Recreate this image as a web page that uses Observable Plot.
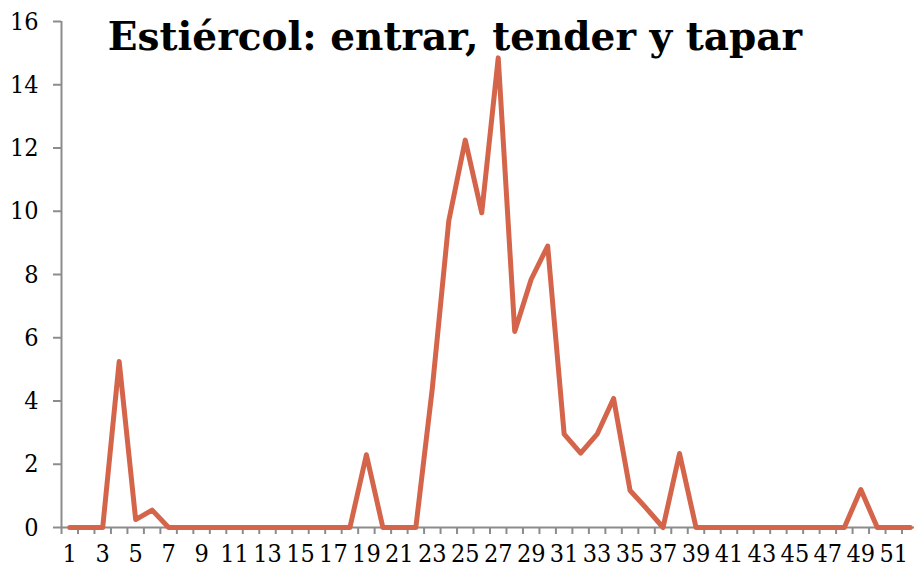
<!DOCTYPE html>
<html><head><meta charset="utf-8">
<script src="https://cdn.jsdelivr.net/npm/d3@7"></script>
<script src="https://cdn.jsdelivr.net/npm/@observablehq/plot@0.6"></script>
<style>body{margin:0;background:#fff;}</style>
</head><body><div id="chart"></div>
<script>
const title = "Estiércol: entrar, tender y tapar";
const weeks = [1,2,3,4,5,6,7,8,9,10,11,12,13,14,15,16,17,18,19,20,21,22,23,24,25,26,27,28,29,30,31,32,33,34,35,36,37,38,39,40,41,42,43,44,45,46,47,48,49,50,51,52];
const values = [0,0,0,5.25,0.25,0.55,0,0,0,0,
                0,0,0,0,0,0,0,0,2.3,0,
                0,0,4.4,9.7,12.25,9.95,14.85,6.2,7.85,8.9,
                2.95,2.35,2.95,4.08,1.17,0.6,0,2.34,0,0,
                0,0,0,0,0,0,0,0,1.2,0,
                0,0];
const yTicks = [0,2,4,6,8,10,12,14,16];
const xTickLabels = [1,3,5,7,9,11,13,15,17,19,21,23,25,27,29,31,33,35,37,39,41,43,45,47,49,51];
const xBoundaries = [0.5, ...weeks.map(w => w + 0.5)];

const data = weeks.map((w, i) => ({week: w, value: values[i]}));
const gray = "#8c8c8c";
const tickFont = "'DejaVu Serif Condensed', 'DejaVu Serif', serif";
const titleFont = "'DejaVu Serif', serif";

const chart = Plot.plot({
  width: 914, height: 568,
  marginLeft: 61, marginTop: 21, marginBottom: 41, marginRight: 0,
  style: {fontFamily: tickFont, fontSize: "25px", color: "#000", background: "#fff"},
  x: {domain: [0.5, 52.5], range: [61, 918], label: null},
  y: {domain: [0, 16], range: [527, 21], label: null},
  marks: [
    Plot.axisY(yTicks, {tickSize: 8, tickPadding: 15, stroke: gray, strokeWidth: 2, label: null, fontSize: 25}),
    Plot.axisX(xBoundaries, {tickSize: 7, tickFormat: () => "", stroke: gray, strokeWidth: 2, label: null}),
    Plot.axisX(xTickLabels, {tickSize: 0, tickPadding: 17, label: null, fontSize: 25}),
    Plot.ruleY([0], {stroke: gray, strokeWidth: 2}),
    Plot.ruleX([0.5], {stroke: gray, strokeWidth: 2}),
    Plot.line(data, {x: "week", y: "value", stroke: "#D4654A", strokeWidth: 5}),
    Plot.text([title], {frameAnchor: "top", lineAnchor: "top", dx: -33, dy: 1, fontSize: 39, fontWeight: "bold", fill: "#000", fontFamily: titleFont})
  ]
});
document.getElementById("chart").append(chart);
</script>
</body></html>
